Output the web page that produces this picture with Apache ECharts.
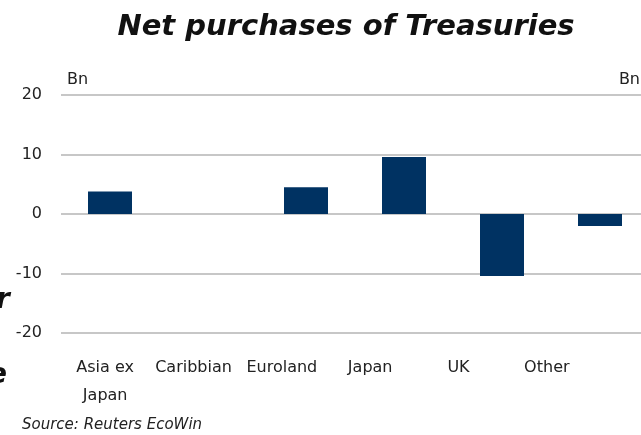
<!DOCTYPE html>
<html>
<head>
<meta charset="utf-8">
<script src="https://cdn.jsdelivr.net/npm/echarts@6/dist/echarts.min.js"></script>
<style>
  html, body { margin: 0; padding: 0; background: #fff; }
  #chart { width: 641px; height: 435px; }
</style>
</head>
<body>
<div id="chart"></div>
<script>
// data (Bn)
const categories = ['Asia ex\nJapan', 'Caribbian', 'Euroland', 'Japan', 'UK', 'Other']
const purchases = [3.8, 0, 4.5, 9.6, -10.4, -2.0]
const yTicks = [-20, -10, 0, 10, 20]

const chart = echarts.init(document.getElementById('chart'))
const font = '"DejaVu Sans", sans-serif'

const option = {
  animation: false,
  title: {
    text: 'Net purchases of Treasuries',
    left: 341,
    top: 8,
    textAlign: 'center',
    textStyle: {
      fontFamily: font,
      fontSize: 29,
      fontWeight: 'bold',
      fontStyle: 'italic',
      color: '#111'
    }
  },
  grid: [
    // bars (the plot runs a little past the right edge)
    { left: 61, top: 95, width: 588, height: 238, outerBoundsMode: 'none' },
    // category labels (sit a bit narrower than the bars in the original)
    { left: 61, top: 95, width: 530, height: 238, outerBoundsMode: 'none' }
  ],
  xAxis: [
    {
      gridIndex: 0,
      type: 'category',
      data: categories,
      axisLine: { show: false },
      axisTick: { show: false },
      axisLabel: { show: false }
    },
    {
      gridIndex: 1,
      type: 'category',
      data: categories,
      position: 'bottom',
      axisLine: { show: false },
      axisTick: { show: false },
      axisLabel: {
        interval: 0,
        hideOverlap: false,
        margin: 21,
        fontFamily: font,
        fontSize: 16,
        lineHeight: 28,
        color: '#222'
      }
    }
  ],
  yAxis: [
    {
      gridIndex: 0,
      type: 'value',
      min: yTicks[0],
      max: yTicks[yTicks.length - 1],
      interval: 10,
      axisLine: { show: false },
      axisTick: { show: false },
      axisLabel: {
        margin: 19,
        fontFamily: font,
        fontSize: 16,
        color: '#222'
      },
      splitLine: { lineStyle: { color: '#b5b5b5', width: 1.5 } }
    },
    {
      gridIndex: 1,
      type: 'value',
      min: -20,
      max: 20,
      show: false,
      splitLine: { show: false }
    }
  ],
  series: [
    {
      type: 'bar',
      xAxisIndex: 0,
      yAxisIndex: 0,
      data: purchases,
      barWidth: 44,
      itemStyle: { color: '#003262' }
    }
  ],
  graphic: [
    { type: 'text', left: 67, top: 72, style: { text: 'Bn', font: '16px ' + font, fill: '#222' } },
    { type: 'text', right: 1, top: 72, style: { text: 'Bn', font: '16px ' + font, fill: '#222' } },
    { type: 'text', left: 22, top: 418, style: { text: 'Source: Reuters EcoWin', font: 'italic 15px ' + font, fill: '#222' } },
    // clipped text from a neighbouring panel
    { type: 'text', x: -4, y: 287, style: { text: 'r', font: 'italic bold 28px ' + font, fill: '#111' } },
    { type: 'text', x: -12, y: 362, style: { text: 'e', font: 'italic bold 28px ' + font, fill: '#111' } }
  ]
}

chart.setOption(option)
</script>
</body>
</html>
